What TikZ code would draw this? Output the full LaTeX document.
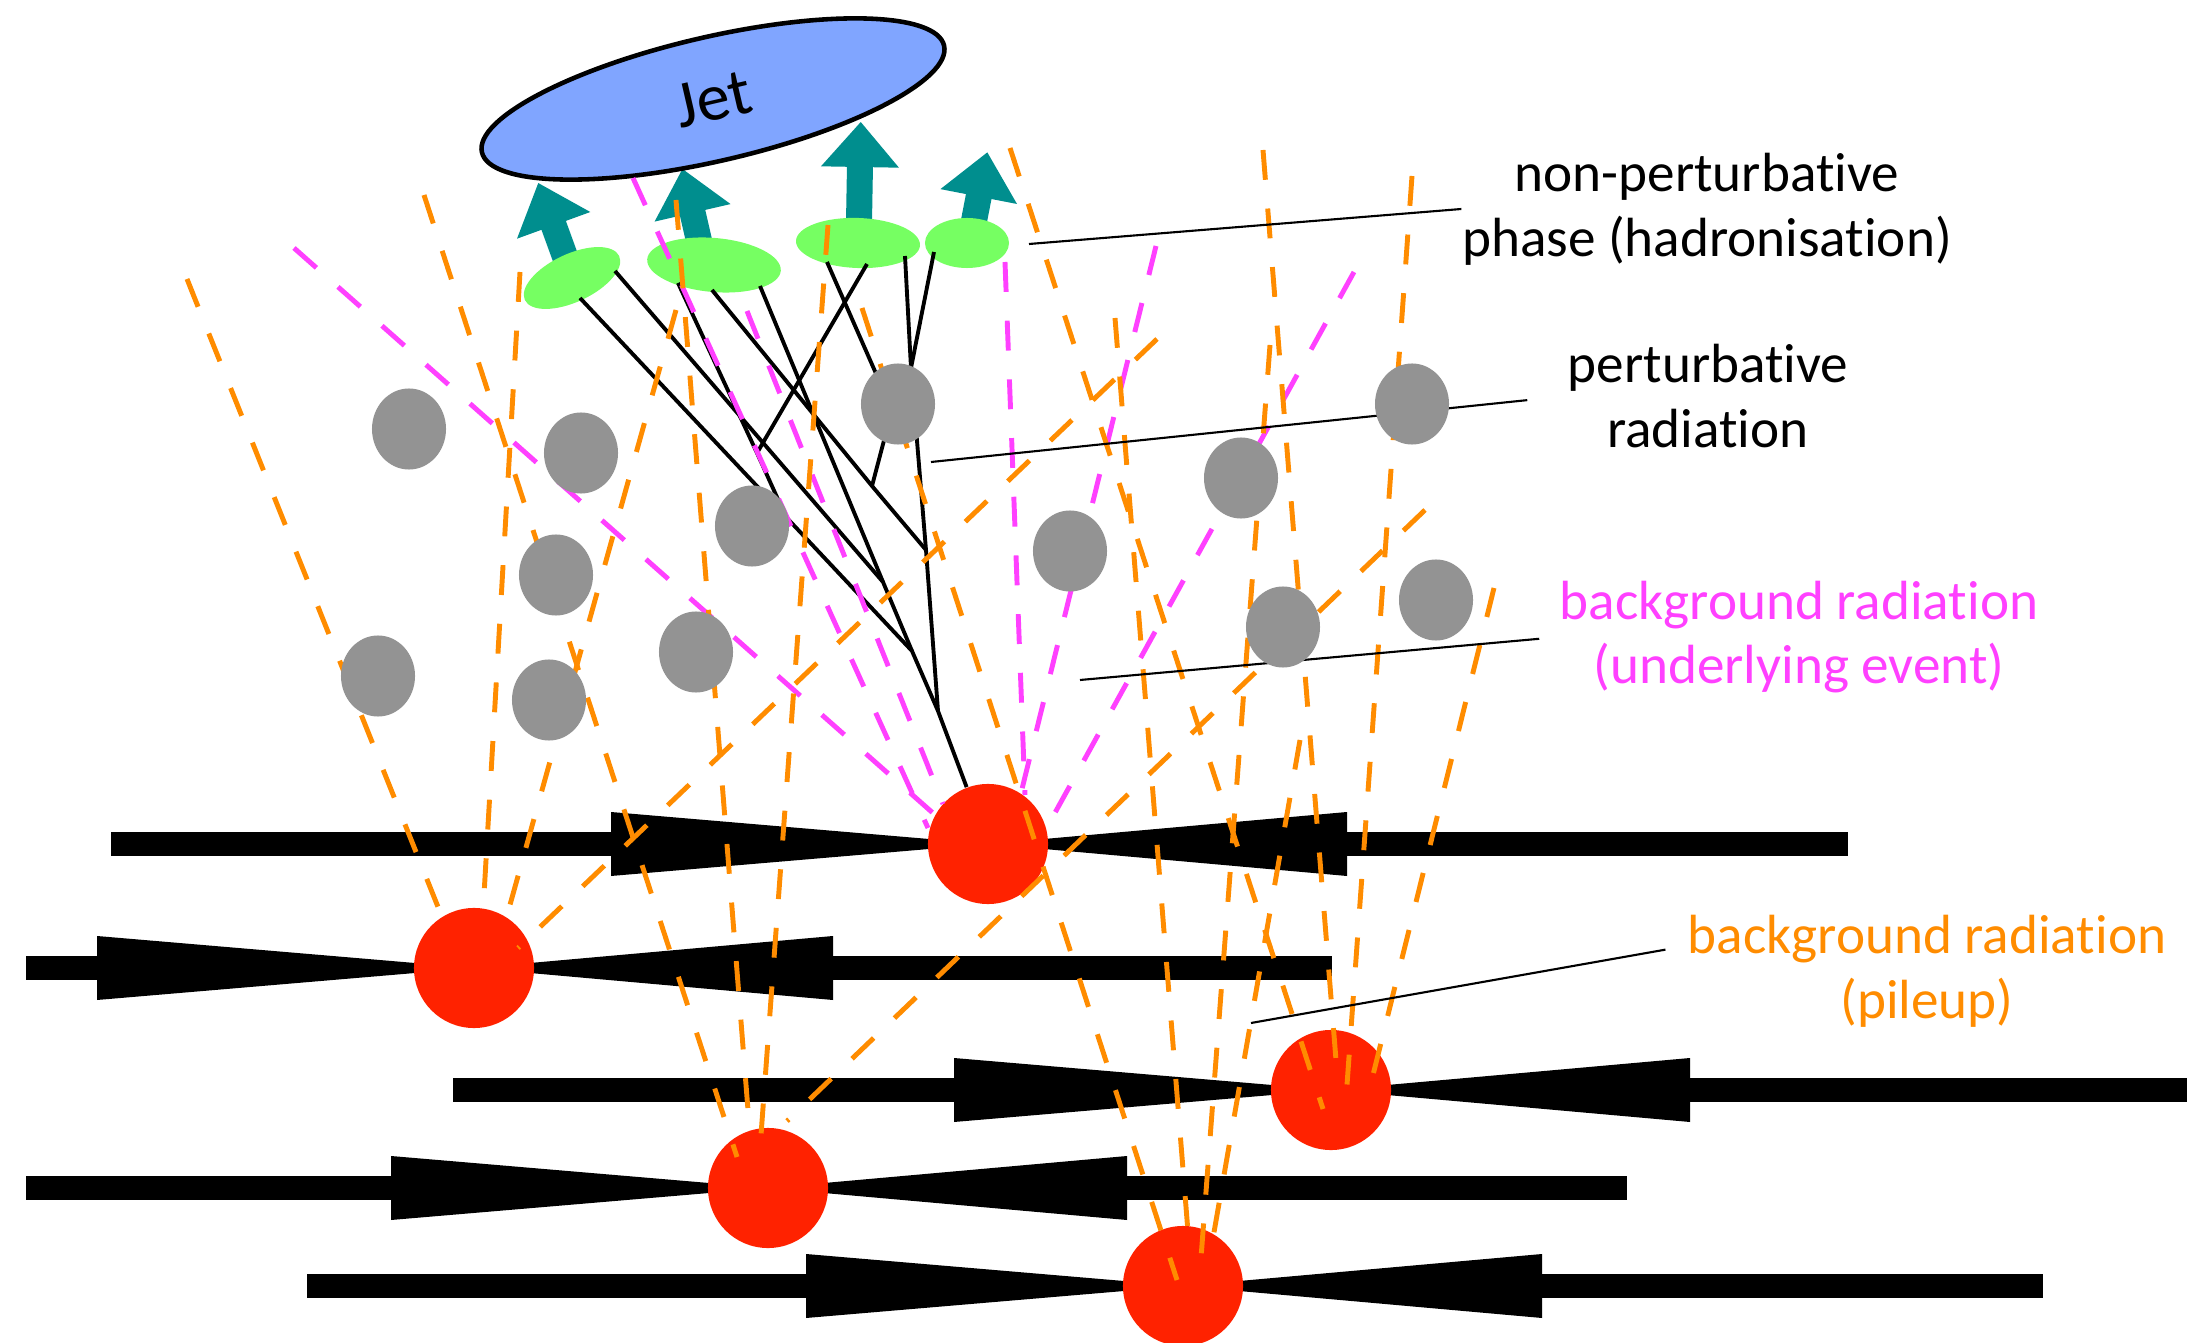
\documentclass[tikz,border=0pt]{standalone}
\usepackage{fontspec}
\setmainfont{Carlito}[Ligatures=NoCommon]
\usetikzlibrary{shapes.geometric}
\definecolor{jetblue}{RGB}{128,165,255}
\definecolor{hadgreen}{RGB}{118,255,98}
\definecolor{hadteal}{RGB}{0,142,142}
\definecolor{blobgray}{RGB}{147,147,147}
\definecolor{pvred}{RGB}{255,34,0}
\definecolor{puorange}{RGB}{255,140,0}
\definecolor{uepink}{RGB}{255,64,255}
\begin{document}
\begin{tikzpicture}[x=0.01cm,y=-0.01cm,
  every node/.style={font=\fontsize{15.7}{18.4}\selectfont,inner sep=0pt},
  vtx/.style={circle,fill=pvred,minimum size=1.2cm},
  blob/.style={ellipse,fill=blobgray,minimum width=0.74cm,minimum height=0.81cm},
  hadron/.style={ellipse,fill=hadgreen},
  pu/.style={puorange,line width=1.4pt,dash pattern=on 8.5pt off 8.2pt},
  ue/.style={uepink,line width=1.4pt,dash pattern=on 8.5pt off 8.2pt},
  shower/.style={line width=1.1pt},
  pointer/.style={line width=0.6pt}]
 \useasboundingbox (0,0) rectangle (2187,1343);

 % colliding beams: bar, head into the vertex, head from the other side, bar
 \foreach \y/\xl/\xc/\xr in {844/111/988/1848, 968/26/474/1332, 1090/453/1331/2187,
                            1188/26/768/1627, 1286/307/1183/2043} {
  \fill (\xl,\y-12) rectangle (\xc-377,\y+12);
  \fill (\xc-377,\y-32) -- (\xc,\y) -- (\xc-377,\y+32) -- cycle;
  \fill (\xc+359,\y-32) -- (\xc,\y) -- (\xc+359,\y+32) -- cycle;
  \fill (\xc+359,\y-12) rectangle (\xr,\y+12);
 }
 \node[vtx] (pvA) at (988,844) {};
 \node[vtx] (pvB) at (474,968) {};
 \node[vtx] (pvC) at (1331,1090) {};
 \node[vtx] (pvD) at (768,1188) {};
 \node[vtx] (pvE) at (1183,1286) {};

 % hadrons and the arrows into the jet
 \foreach \x/\y/\a/\l in {567/262/20/84, 700/245/13/78, 859/222/-1/100, 973/226/-11/75}
  \fill[hadteal,shift={(\x,\y)},rotate=\a] (-13,0) -- (-13,45-\l) -- (-39,45-\l) -- (0,-\l)
    -- (39,45-\l) -- (13,45-\l) -- (13,0) -- cycle;
 \node[hadron,minimum width=1.04cm,minimum height=0.48cm,rotate=25] (h1) at (572,278) {};
 \node[hadron,minimum width=1.34cm,minimum height=0.54cm,rotate=-5] (h2) at (714,265) {};
 \node[hadron,minimum width=1.24cm,minimum height=0.50cm,rotate=-2] (h3) at (858,243) {};
 \node[hadron,minimum width=0.84cm,minimum height=0.50cm] (h4) at (967,243) {};
 \node[ellipse,draw,line width=1.3pt,fill=jetblue,minimum width=4.74cm,minimum height=1.24cm,
   rotate=13,font=\fontsize{19}{22}\selectfont] (jet) at (713,99) {Jet};

 % parton shower
 \coordinate (j1) at (938,711);
 \coordinate (j2) at (912,651);
 \coordinate (j3) at (926,550);
 \coordinate (j4) at (883,582);
 \coordinate (j5) at (872,486);
 \coordinate (j6) at (786,517);
 \coordinate (j7) at (757,453);
 \coordinate (j8) at (892,410);
 \coordinate (j9) at (911,368);
 \coordinate (e1) at (580,298);
 \coordinate (e2) at (615,271);
 \coordinate (e3) at (678,283);
 \coordinate (e4) at (712,290);
 \coordinate (e5) at (760,286);
 \coordinate (e6) at (827,262);
 \coordinate (e7) at (867,264);
 \coordinate (e8) at (905,256);
 \coordinate (e9) at (934,252);
 \draw[shower] (pvA) -- (j1) -- (j2) -- (j6) -- (e1);
 \draw[shower] (j1) -- (j3) -- (j9) -- (e8);
 \draw[shower] (j9) -- (e9);
 \draw[shower] (j2) -- (j4) -- (e2);
 \draw[shower] (j4) -- (e5);
 \draw[shower] (j3) -- (j5) -- (e4);
 \draw[shower] (j5) -- (j8) -- (e6);
 \draw[shower] (j6) -- (j7) -- (e3);
 \draw[shower] (j7) -- (e7);

 % underlying event, from the hard vertex
 \foreach \xa/\ya/\xb/\yb in {294/248/934/814, 633/178/928/828, 747/311/943/804,
                              1005/262/1025/795, 1156/246/1021/793, 1354/272/1046/829}
  \draw[ue] (\xa,\ya) -- (\xb,\yb);
 % pileup, from the other vertices
 \foreach \xa/\ya/\xb/\yb in {187/279/440/912, 520/272/484/895, 676/310/508/912, 1157/339/518/948,
                              424/195/737/1157, 676/200/748/1110, 828/225/761/1135, 1425/510/787/1121,
                              1010/148/1323/1109, 1263/150/1336/1060, 1412/176/1347/1085, 1494/588/1373/1075,
                              1300/740/1213/1238, 862/308/1177/1280, 1115/318/1188/1232, 1270/345/1201/1258}
  \draw[pu] (\xa,\ya) -- (\xb,\yb);

 % labels
 \node[align=center] (labHad) at (1707,209) {non-perturbative\\phase (hadronisation)};
 \node[align=center] (labPert) at (1708,396) {perturbative\\radiation};
 \node[align=center,text=uepink] (labUE) at (1799,637) {background radiation\\(underlying event)};
 \node[align=center,text=puorange] (labPU) at (1927,971) {background radiation\\(pileup)};
 \draw[pointer] (1029,244) -- (labHad.west);
 \draw[pointer,shorten >=0.4cm] (931,462) -- (labPert.west);
 \draw[pointer,shorten >=0.2cm] (1080,680) -- (labUE.west);
 \draw[pointer,shorten >=0.22cm] (1251,1023) -- (labPU.174);

 % perturbative emissions
 \foreach \x/\y [count=\i] in {409/429, 581/453, 556/575, 378/676, 549/700, 696/652, 752/526,
                               898/404, 1070/551, 1241/478, 1412/404, 1283/627, 1436/600}
  \node[blob] (rad\i) at (\x,\y) {};
\end{tikzpicture}
\end{document}
